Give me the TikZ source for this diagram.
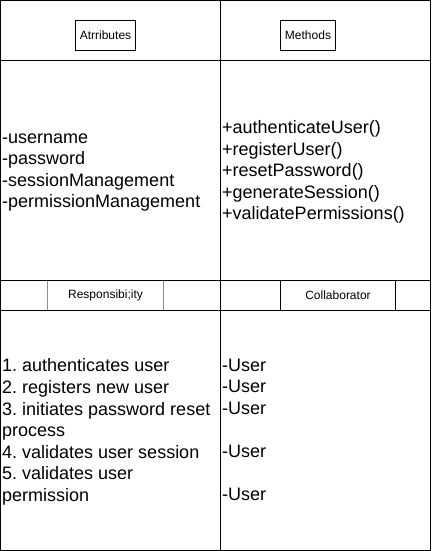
\documentclass[tikz,border=0pt]{standalone}
\usepackage{fontspec}
\setmainfont{Liberation Sans}
\frenchspacing
\begin{document}
\begin{tikzpicture}[x=1pt,y=-1pt,
  grid/.style={draw=black,line width=1pt},
  soft/.style={draw=gray!90,line width=1pt},
  smalllabel/.style={font=\fontsize{12}{14.4}\selectfont,inner sep=0pt},
  headbox/.style={draw=black,line width=1pt,minimum height=30pt,inner sep=0pt,font=\fontsize{12}{14.4}\selectfont},
  bigtext/.style={font=\fontsize{18}{21.6}\selectfont\frenchspacing,align=left,anchor=west,inner sep=0pt}]
\useasboundingbox (0,0) rectangle (432,551);
% grid
\draw[grid] (0.5,0.5) rectangle (430.5,550.5);
\draw[grid] (220.5,0.5) -- (220.5,550.5);
\draw[grid] (0.5,60.5) -- (430.5,60.5);
\draw[grid] (0.5,280.5) -- (430.5,280.5);
\draw[grid] (0.5,310.5) -- (430.5,310.5);
\draw[soft] (47.5,281) -- (47.5,310);
\draw[soft] (163.5,281) -- (163.5,310);
\draw[grid] (280.5,281) -- (280.5,310);
\draw[grid] (395.5,281) -- (395.5,310);
% headers
\node[headbox,minimum width=60pt] (attr) at (105.5,35.5) {Atrributes};
\node[headbox,minimum width=55pt] (meth) at (308,35.5) {Methods};
\node[smalllabel] (resp) at (105.5,295.5) {Responsibi;ity};
\node[smalllabel] (collab) at (338,295.5) {Collaborator};
% contents
\node[bigtext] (attrlist) at (2,172.5) {-username\\-password\\-sessionManagement\\-permissionManagement};
\node[bigtext] (methlist) at (222,172) {+authenticateUser()\\+registerUser()\\+resetPassword()\\+generateSession()\\+validatePermissions()};
\node[bigtext] (resplist) at (2,432) {1. authenticates user\\2. registers new user\\3. initiates password reset\\process\\4. validates user session\\5. validates user\\permission};
\node[bigtext] (collist) at (222,430) {-User\\-User\\-User\\\mbox{}\\-User\\\mbox{}\\-User};
\end{tikzpicture}
\end{document}
